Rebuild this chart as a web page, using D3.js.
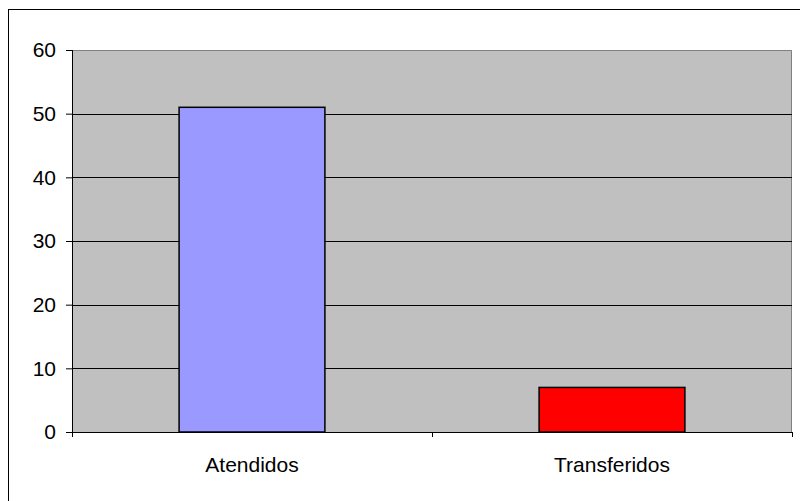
<!DOCTYPE html>
<html>
<head>
<meta charset="utf-8">
<script src="https://cdnjs.cloudflare.com/ajax/libs/d3/7.8.5/d3.min.js"></script>
<style>
  body { margin: 0; background: #fff; }
  svg { display: block; font-family: "Liberation Sans", Arial, sans-serif; }
</style>
</head>
<body>
<div id="chart"></div>
<script>
var categories = ["Atendidos", "Transferidos"];
var values = [51, 7];
var colors = ["#9999FF", "#FF0000"];
var yTicks = [0, 10, 20, 30, 40, 50, 60];

var width = 800, height = 501;
var margin = { top: 50, left: 72, right: 8, bottom: 69 };
var chartWidth = width - margin.left - margin.right;
var chartHeight = height - margin.top - margin.bottom;

var svg = d3.select("#chart").append("svg")
  .attr("width", width)
  .attr("height", height);

// outer chart border
svg.append("rect")
  .attr("x", 8.5).attr("y", 9.5)
  .attr("width", 800).attr("height", 600)
  .attr("fill", "none")
  .attr("stroke", "#000")
  .attr("stroke-width", 1);

var chartLayer = svg.append("g")
  .attr("transform", "translate(" + [margin.left, margin.top] + ")");

var xScale = d3.scaleBand().domain(categories).range([0, chartWidth]).padding(0);
var yScale = d3.scaleLinear().domain([0, 60]).range([chartHeight, 0]);

// plot area
chartLayer.append("rect")
  .attr("width", chartWidth)
  .attr("height", chartHeight)
  .attr("fill", "#C0C0C0");

chartLayer.append("path")
  .attr("d", "M0,0.5H" + (chartWidth - 0.5) + "V" + chartHeight)
  .attr("fill", "none")
  .attr("stroke", "#808080")
  .attr("stroke-width", 1);

// gridlines
chartLayer.selectAll(".grid")
  .data(yTicks.filter(function(d) { return d > 0 && d < 60; }))
  .enter().append("line")
  .attr("class", "grid")
  .attr("x1", 0).attr("x2", chartWidth)
  .attr("y1", function(d) { return Math.round(yScale(d)) + 0.5; })
  .attr("y2", function(d) { return Math.round(yScale(d)) + 0.5; })
  .attr("stroke", "#000")
  .attr("stroke-width", 1);

// bars
var barWidth = xScale.bandwidth() * 0.405;
chartLayer.selectAll(".bar")
  .data(values)
  .enter().append("rect")
  .attr("class", "bar")
  .attr("x", function(d, i) { return xScale(categories[i]) + (xScale.bandwidth() - barWidth) / 2; })
  .attr("y", function(d) { return yScale(d); })
  .attr("width", barWidth)
  .attr("height", function(d) { return chartHeight - yScale(d); })
  .attr("fill", function(d, i) { return colors[i]; })
  .attr("stroke", "#000")
  .attr("stroke-width", 1.5);

// y axis
var yAxis = d3.axisLeft(yScale).tickValues(yTicks).tickSize(6).tickPadding(10);
var yG = chartLayer.append("g").attr("class", "axis y").call(yAxis);
yG.select(".domain").attr("d", "M0.5,0V" + (chartHeight + 5)).attr("stroke", "#000");
yG.selectAll(".tick line").attr("stroke", "#000");
yG.selectAll(".tick text")
  .attr("font-size", 21)
  .attr("font-family", "Liberation Sans, Arial, sans-serif")
  .attr("fill", "#000");

// x axis
var xAxis = d3.axisBottom(xScale).tickSize(0).tickPadding(25);
var xG = chartLayer.append("g")
  .attr("class", "axis x")
  .attr("transform", "translate(0," + chartHeight + ")")
  .call(xAxis);
xG.select(".domain").attr("d", "M0,0.5H" + chartWidth).attr("stroke", "#000");
xG.selectAll(".tick text")
  .attr("font-size", 21)
  .attr("font-family", "Liberation Sans, Arial, sans-serif")
  .attr("fill", "#000");

// category separator ticks
chartLayer.selectAll(".xsep")
  .data([0, 1, 2])
  .enter().append("line")
  .attr("x1", function(d) { return Math.round(d * xScale.step()) + 0.5; })
  .attr("x2", function(d) { return Math.round(d * xScale.step()) + 0.5; })
  .attr("y1", chartHeight)
  .attr("y2", chartHeight + 5)
  .attr("stroke", "#000");
</script>
</body>
</html>
